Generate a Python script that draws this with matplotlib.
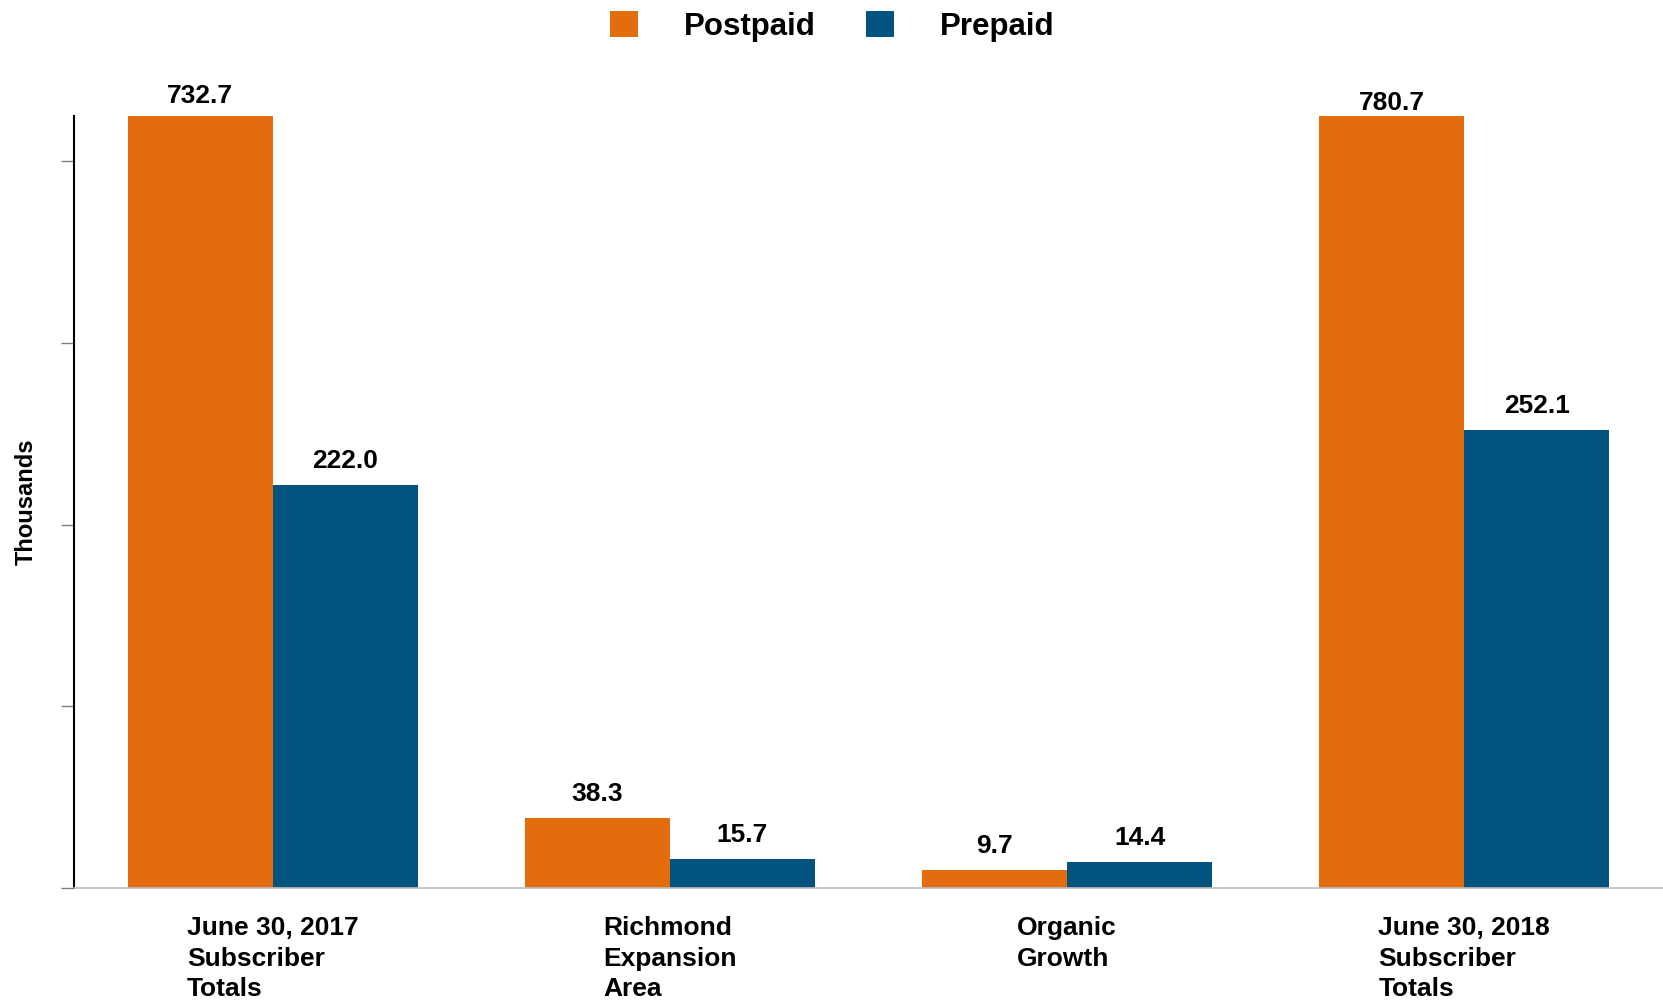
import numpy as np
import matplotlib
matplotlib.use("Agg")
from matplotlib import pyplot as plt

# datos del grafico (miles)
categorias = ["June 30, 2017\nSubscriber\nTotals",
              "Richmond\nExpansion\nArea",
              "Organic\nGrowth",
              "June 30, 2018\nSubscriber\nTotals"]
postpaid = [732.7, 38.3, 9.7, 780.7]
prepaid = [222.0, 15.7, 14.4, 252.1]
series = ["Postpaid", "Prepaid"]
colores = ["#E36C0C", "#02547F"]

plt.rcParams['font.family'] = ['Liberation Sans', 'DejaVu Sans']
plt.rcParams['font.weight'] = 'bold'

ymax = 425
x = np.arange(len(categorias))
ancho = 0.365

fig = plt.figure(figsize=(16.63, 10.02), dpi=100)
ax = fig.add_axes([74 / 1663, 1 - 888 / 1002, 1 - 74 / 1663, (888 - 116) / 1002])

# desplazamiento (px) de las etiquetas de barras cortadas por el eje
off_cortada = [20, 20, 20, 13]

barras = []
for i, (vals, nombre) in enumerate(zip([postpaid, prepaid], series)):
    pos = x + (i - 0.5) * ancho
    b = ax.bar(pos, vals, width=ancho, color=colores[i], label=nombre, zorder=2)
    barras.append(b)
    # etiquetas de valor
    for j, (p, v) in enumerate(zip(pos, vals)):
        if v > ymax:
            y, off = ymax, off_cortada[j]
        else:
            y, off = v, 24
        ax.annotate(f"{v:.1f}", xy=(p, y), xytext=(0, off * 0.72),
                    textcoords='offset points', ha='center', va='center',
                    fontsize=19, fontweight='bold', annotation_clip=False)

ax.set_ylim(0, ymax)
ax.set_xlim(-0.5, 3.5)
ax.set_yticks([0, 100, 200, 300, 400])
ax.set_yticklabels([])
ax.tick_params(axis='y', length=9.4, width=1, color='#808080', direction='out')
ax.set_xticks(x)
ax.set_xticklabels(categorias, fontsize=19, fontweight='bold', ha='center',
                   multialignment='left')
ax.tick_params(axis='x', length=0, pad=20)
for lab in ax.get_xticklabels():
    lab.set_linespacing(1.36)

ax.spines['top'].set_visible(False)
ax.spines['right'].set_visible(False)
ax.spines['left'].set_color('black')
ax.spines['left'].set_linewidth(1.5)
ax.spines['bottom'].set_color('#BFBFBF')
ax.spines['bottom'].set_linewidth(1.2)

ax.set_ylabel("Thousands", fontsize=17, fontweight='bold')
ax.yaxis.set_label_coords(-0.0226, 0.5)

fig.legend(handles=barras, labels=series, loc='center', bbox_to_anchor=(0.5005, 0.974),
           ncol=2, frameon=False, handlelength=0.9, handleheight=0.93,
           handletextpad=1.48, columnspacing=1.6, prop={'weight': 'bold', 'size': 22.5})

plt.savefig("out.png", dpi=100)
